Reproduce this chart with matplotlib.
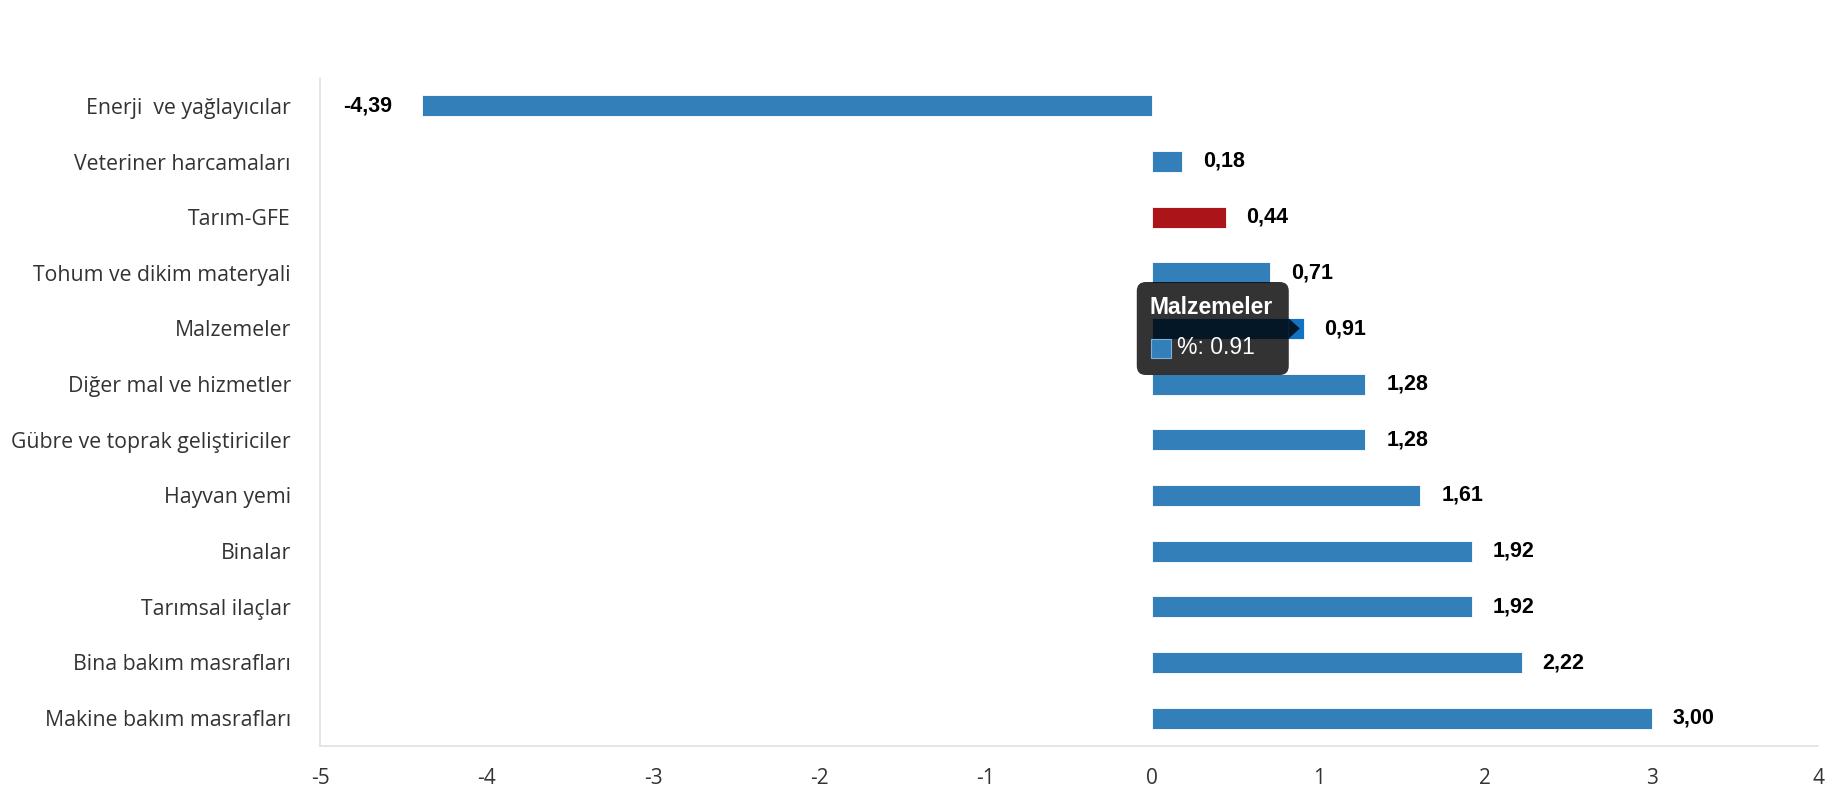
import matplotlib
matplotlib.use("Agg")
import matplotlib.pyplot as plt
from matplotlib.patches import FancyBboxPatch, Polygon, Rectangle
from matplotlib.transforms import IdentityTransform

# veriler (yukaridan asagiya)
kategoriler = [
    "Enerji  ve yağlayıcılar",
    "Veteriner harcamaları",
    "Tarım-GFE",
    "Tohum ve dikim materyali",
    "Malzemeler",
    "Diğer mal ve hizmetler",
    "Gübre ve toprak geliştiriciler",
    "Hayvan yemi",
    "Binalar",
    "Tarımsal ilaçlar",
    "Bina bakım masrafları",
    "Makine bakım masrafları",
]
degerler = [-4.39, 0.18, 0.44, 0.71, 0.91, 1.28, 1.28, 1.61, 1.92, 1.92, 2.22, 3.00]
x_ticks = [-5, -4, -3, -2, -1, 0, 1, 2, 3, 4]
vurgulu = "Tarım-GFE"
tooltip_kategori = "Malzemeler"

MAVI = "#337fba"
KIRMIZI = "#ab1519"
HOVER = "#1272c4"

fig = plt.figure(figsize=(18.3, 8), dpi=100)
ax = fig.add_axes([0.1749, 0.0675, 0.8186, 0.835])

renkler = []
for k in kategoriler:
    if k == vurgulu:
        renkler.append(KIRMIZI)
    elif k == tooltip_kategori:
        renkler.append(HOVER)
    else:
        renkler.append(MAVI)

y = list(range(len(kategoriler)))
ax.barh(y, degerler, height=0.377, color=renkler, edgecolor="white", linewidth=0.6)

ax.set_xlim(-5, 4)
ax.set_ylim(len(kategoriler) - 0.5, -0.5)
ax.set_xticks(x_ticks)
ax.set_xticklabels([str(t) for t in x_ticks], fontsize=15, color="#333333",
                   family=["Open Sans", "DejaVu Sans"])
ax.set_yticks(y)
ax.set_yticklabels(kategoriler, fontsize=15.3, color="#333333",
                   family=["Open Sans", "DejaVu Sans"])
ax.tick_params(axis="y", length=0, pad=21)
ax.tick_params(axis="x", length=0, pad=16)

for s in ["top", "right"]:
    ax.spines[s].set_visible(False)
ax.spines["left"].set_color("#dde3ec")
ax.spines["bottom"].set_color("#e0e0e0")
ax.spines["left"].set_linewidth(1.2)
ax.spines["bottom"].set_linewidth(1.2)

# deger etiketleri
for yi, v in zip(y, degerler):
    etiket = f"{v:.2f}".replace(".", ",")
    if v >= 0:
        ax.annotate(etiket, (v, yi), xytext=(15, 0), textcoords="offset points",
                    ha="left", va="center", fontsize=15.5, fontweight="bold",
                    family=["Liberation Sans Narrow", "Liberation Sans", "DejaVu Sans"],
                    color="black")
    else:
        ax.annotate(etiket, (v, yi), xytext=(-21, 0), textcoords="offset points",
                    ha="right", va="center", fontsize=15.5, fontweight="bold",
                    family=["Liberation Sans Narrow", "Liberation Sans", "DejaVu Sans"],
                    color="black")

# tooltip (Malzemeler)
ti = kategoriler.index(tooltip_kategori)
ex, ey = ax.transData.transform((degerler[ti], ti))
idt = IdentityTransform()
bl = ex - 167
br = ex - 15
bb = ey - 46.5
bt = ey + 46.5
kutu = FancyBboxPatch((bl, bb), br - bl, bt - bb,
                      boxstyle="round,pad=0,rounding_size=9",
                      facecolor="black", alpha=0.8, edgecolor="none",
                      transform=idt, zorder=10)
fig.patches.append(kutu)
ok = Polygon([(br, ey + 10), (ex - 4, ey), (br, ey - 10)], closed=True,
             facecolor="black", alpha=0.8, edgecolor="none",
             transform=idt, zorder=10)
fig.patches.append(ok)
kare = Rectangle((bl + 14, ey - 29.5), 20, 19, facecolor=MAVI,
                 edgecolor="#7fb0d8", linewidth=0.8, transform=idt, zorder=11)
fig.patches.append(kare)
fig.text(bl + 13, ey + 21.5, tooltip_kategori, transform=idt, color="white",
         fontsize=16.5, fontweight="bold", ha="left", va="center",
         family=["Liberation Sans", "DejaVu Sans"], zorder=12)
fig.text(bl + 40, ey - 19, f"%: {degerler[ti]}", transform=idt, color="white",
         fontsize=16.5, ha="left", va="center",
         family=["Liberation Sans", "DejaVu Sans"], zorder=12)

fig.savefig("out.png", dpi=100)
